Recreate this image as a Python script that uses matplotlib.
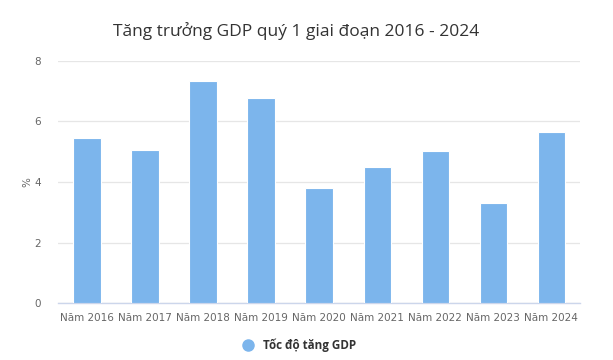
import matplotlib
matplotlib.use("Agg")
import matplotlib.pyplot as plt
from matplotlib.lines import Line2D

years = ["Năm 2016", "Năm 2017", "Năm 2018", "Năm 2019", "Năm 2020",
         "Năm 2021", "Năm 2022", "Năm 2023", "Năm 2024"]
gdp_growth = [5.46, 5.06, 7.35, 6.77, 3.79, 4.48, 5.02, 3.32, 5.64]
series_name = "Tốc độ tăng GDP"
title = "Tăng trưởng GDP quý 1 giai đoạn 2016 - 2024"

plt.rcParams['font.family'] = ['DejaVu Sans']

fig = plt.figure(figsize=(6.13, 3.6), dpi=100)
ax = fig.add_axes([0.0946, 0.158, 0.852, 0.673])

x = range(len(years))
ax.bar(x, gdp_growth, width=0.47, color='#7cb5ec', edgecolor='white',
       linewidth=0.8, zorder=3)

ax.set_xlim(-0.5, len(years) - 0.5)
ax.set_ylim(0, 8)
ax.set_yticks([0, 2, 4, 6, 8])
ax.set_xticks(list(x), years)
ax.tick_params(axis='both', length=0, labelsize=7.5, colors='#666666')
ax.tick_params(axis='x', pad=7)
ax.tick_params(axis='y', pad=12)
ax.grid(True, axis='y', color='#e6e6e6', linewidth=0.9, zorder=0)
for side in ['top', 'right', 'left']:
    ax.spines[side].set_visible(False)
ax.spines['bottom'].set_color('#ccd6eb')
ax.spines['bottom'].set_linewidth(1)

ax.set_ylabel("%", fontsize=7.5, color='#666666', labelpad=2)

fig.text(0.483, 0.915, title, ha='center', va='center', fontsize=12.5,
         color='#333333', family=['Open Sans', 'DejaVu Sans'])

handle = Line2D([], [], marker='o', linestyle='none', markersize=8,
                markerfacecolor='#7cb5ec', markeredgecolor='#7cb5ec')
fig.legend([handle], [series_name], loc='center', bbox_to_anchor=(0.483, 0.042),
           frameon=False, handletextpad=0.3,
           prop={'size': 8.4, 'weight': 'bold', 'family': ['Open Sans', 'DejaVu Sans']},
           labelcolor='#333333')

fig.savefig("out.png", dpi=100)
